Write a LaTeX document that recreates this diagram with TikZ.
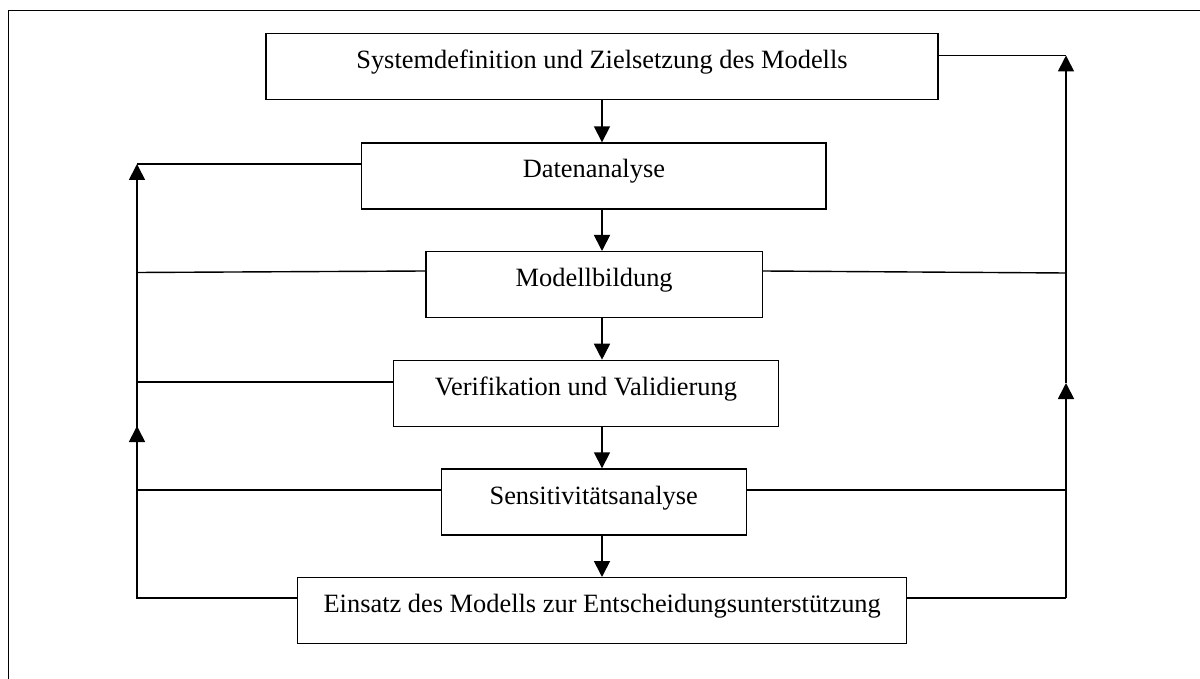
\documentclass[tikz,border=0pt]{standalone}
\usepackage{fontspec}
\setmainfont{Liberation Serif}
\usetikzlibrary{arrows.meta}
\begin{document}
\begin{tikzpicture}[x=0.5pt,y=-0.5pt,
  stepbox/.style={draw, line width=0.7pt, inner sep=0pt, text height=17.5pt, text depth=15.5pt,
    anchor=north, font=\fontsize{13.2}{15}\selectfont},
  conn/.style={line width=0.7pt},
  arr/.style={line width=0.85pt, -{Triangle[length=8pt,width=8pt]}}]
\useasboundingbox (0,0) rectangle (1200,679);
% frame
\draw[line width=0.6pt] (8.5,679) -- (8.5,10.5) -- (1200,10.5);
% boxes
\node[stepbox, minimum width=336pt] (S) at (602,33) {Systemdefinition und Zielsetzung des Modells};
\node[stepbox, minimum width=232.2pt] (D) at (593.9,142.3) {Datenanalyse};
\node[stepbox, minimum width=168.2pt] (M) at (594.2,251) {Modellbildung};
\node[stepbox, minimum width=192.3pt] (V) at (586,359.7) {Verifikation und Validierung};
\node[stepbox, minimum width=152.5pt] (Se) at (593.7,468.3) {Sensitivitätsanalyse};
\node[stepbox, minimum width=304.5pt] (E) at (602.2,577) {Einsatz des Modells zur Entscheidungsunterstützung};
% down arrows
\coordinate (ax) at (602,0);
\draw[arr] (S.south -| ax) -- (D.north -| ax);
\draw[arr] (D.south -| ax) -- (M.north -| ax);
\draw[arr] (M.south -| ax) -- (V.north -| ax);
\draw[arr] (V.south -| ax) -- (Se.north -| ax);
\draw[arr] (Se.south -| ax) -- (E.north -| ax);
% left rail
\coordinate (L1) at (137,164);
\coordinate (L2) at (137,272.5);
\coordinate (L3) at (137,382);
\coordinate (L4) at (137,426);
\coordinate (L5) at (137,490);
\coordinate (L6) at (137,598);
\draw[conn] (L6 -| E.west) -- (L6) -- (L4);
\draw[arr] (L6) -- (L4);
\draw[arr] (L4) -- (L1);
\draw[conn] (L1) -- (L1 -| D.west);
\draw[conn] (L2) -- (137,271 -| M.west);
\draw[conn] (L3) -- (L3 -| V.west);
\draw[conn] (L5) -- (L5 -| Se.west);
% right rail
\coordinate (R0) at (1066,55.5);
\coordinate (R2) at (1066,273);
\coordinate (R4) at (1066,383);
\coordinate (R5) at (1066,490);
\coordinate (R6) at (1066,598);
\draw[conn] (R6 -| E.east) -- (R6);
\draw[arr] (R6) -- (R4);
\draw[arr] (R4) -- (R0);
\draw[conn] (R0) -- (R0 -| S.east);
\draw[conn] (R2) -- (1066,271 -| M.east);
\draw[conn] (R5) -- (R5 -| Se.east);
\end{tikzpicture}
\end{document}
